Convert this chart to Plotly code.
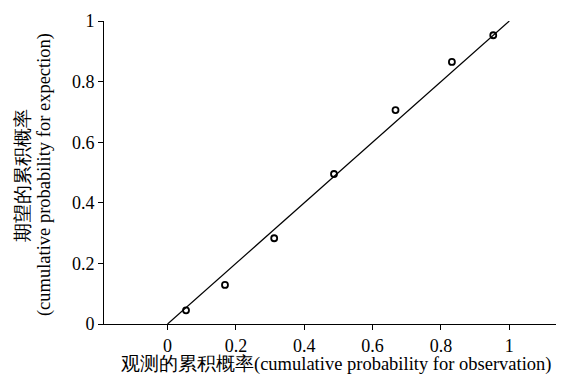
import plotly.graph_objects as go

obs = [0.054, 0.168, 0.312, 0.487, 0.667, 0.832, 0.953]
exp = [0.045, 0.129, 0.283, 0.495, 0.706, 0.865, 0.953]
line_x = [0, 1]
line_y = [0, 1]
x_ticks = [0, 0.2, 0.4, 0.6, 0.8, 1]
x_ticklabels = ["0", "0.2", "0.4", "0.6", "0.8", "1"]
y_ticks = [0, 0.2, 0.4, 0.6, 0.8, 1]
y_ticklabels = ["0", "0.2", "0.4", "0.6", "0.8", "1"]
x_title = "观测的累积概率(cumulative probability for observation)"
y_title_cn = "期望的累积概率"
y_title_en = "(cumulative probability for expection)"

FONT = "'Times New Roman', 'Liberation Serif', serif"

fig = go.Figure()
fig.add_trace(go.Scatter(x=line_x, y=line_y, mode="lines",
                         line=dict(color="black", width=1.2), showlegend=False))
fig.add_trace(go.Scatter(x=obs, y=exp, mode="markers",
                         marker=dict(symbol="circle-open", size=6, color="black",
                                     line=dict(width=1.8, color="black")),
                         showlegend=False))

# page body has an 8px margin, so the figure is offset by 8px
fig.update_layout(
    width=556, height=367,
    margin=dict(l=96, r=0, t=13, b=51),
    paper_bgcolor="white", plot_bgcolor="white",
    font=dict(family=FONT, size=18, color="black"),
    xaxis=dict(range=[-0.186, 1.16], tickvals=x_ticks, ticktext=x_ticklabels,
               showline=True, linecolor="black", linewidth=1,
               ticks="outside", ticklen=5, tickcolor="black",
               tickfont=dict(size=18),
               showgrid=False, zeroline=False, automargin=False),
    yaxis=dict(range=[0, 1], tickvals=y_ticks, ticktext=y_ticklabels,
               showline=True, linecolor="black", linewidth=1,
               ticks="outside", ticklen=5, tickcolor="black",
               tickfont=dict(size=18),
               showgrid=False, zeroline=False, automargin=False),
)

fig.add_annotation(text=x_title, xref="paper", yref="paper", x=0.504, y=-0.132,
                   xanchor="center", yanchor="middle", showarrow=False,
                   font=dict(size=18.5))
fig.add_annotation(text=y_title_cn, xref="paper", yref="paper", x=-0.1767, y=0.49,
                   xanchor="center", yanchor="middle", showarrow=False,
                   textangle=-90, font=dict(size=18.5))
fig.add_annotation(text=y_title_en, xref="paper", yref="paper", x=-0.128, y=0.492,
                   xanchor="center", yanchor="middle", showarrow=False,
                   textangle=-90, font=dict(size=18.5))

fig.write_html("out.html")
